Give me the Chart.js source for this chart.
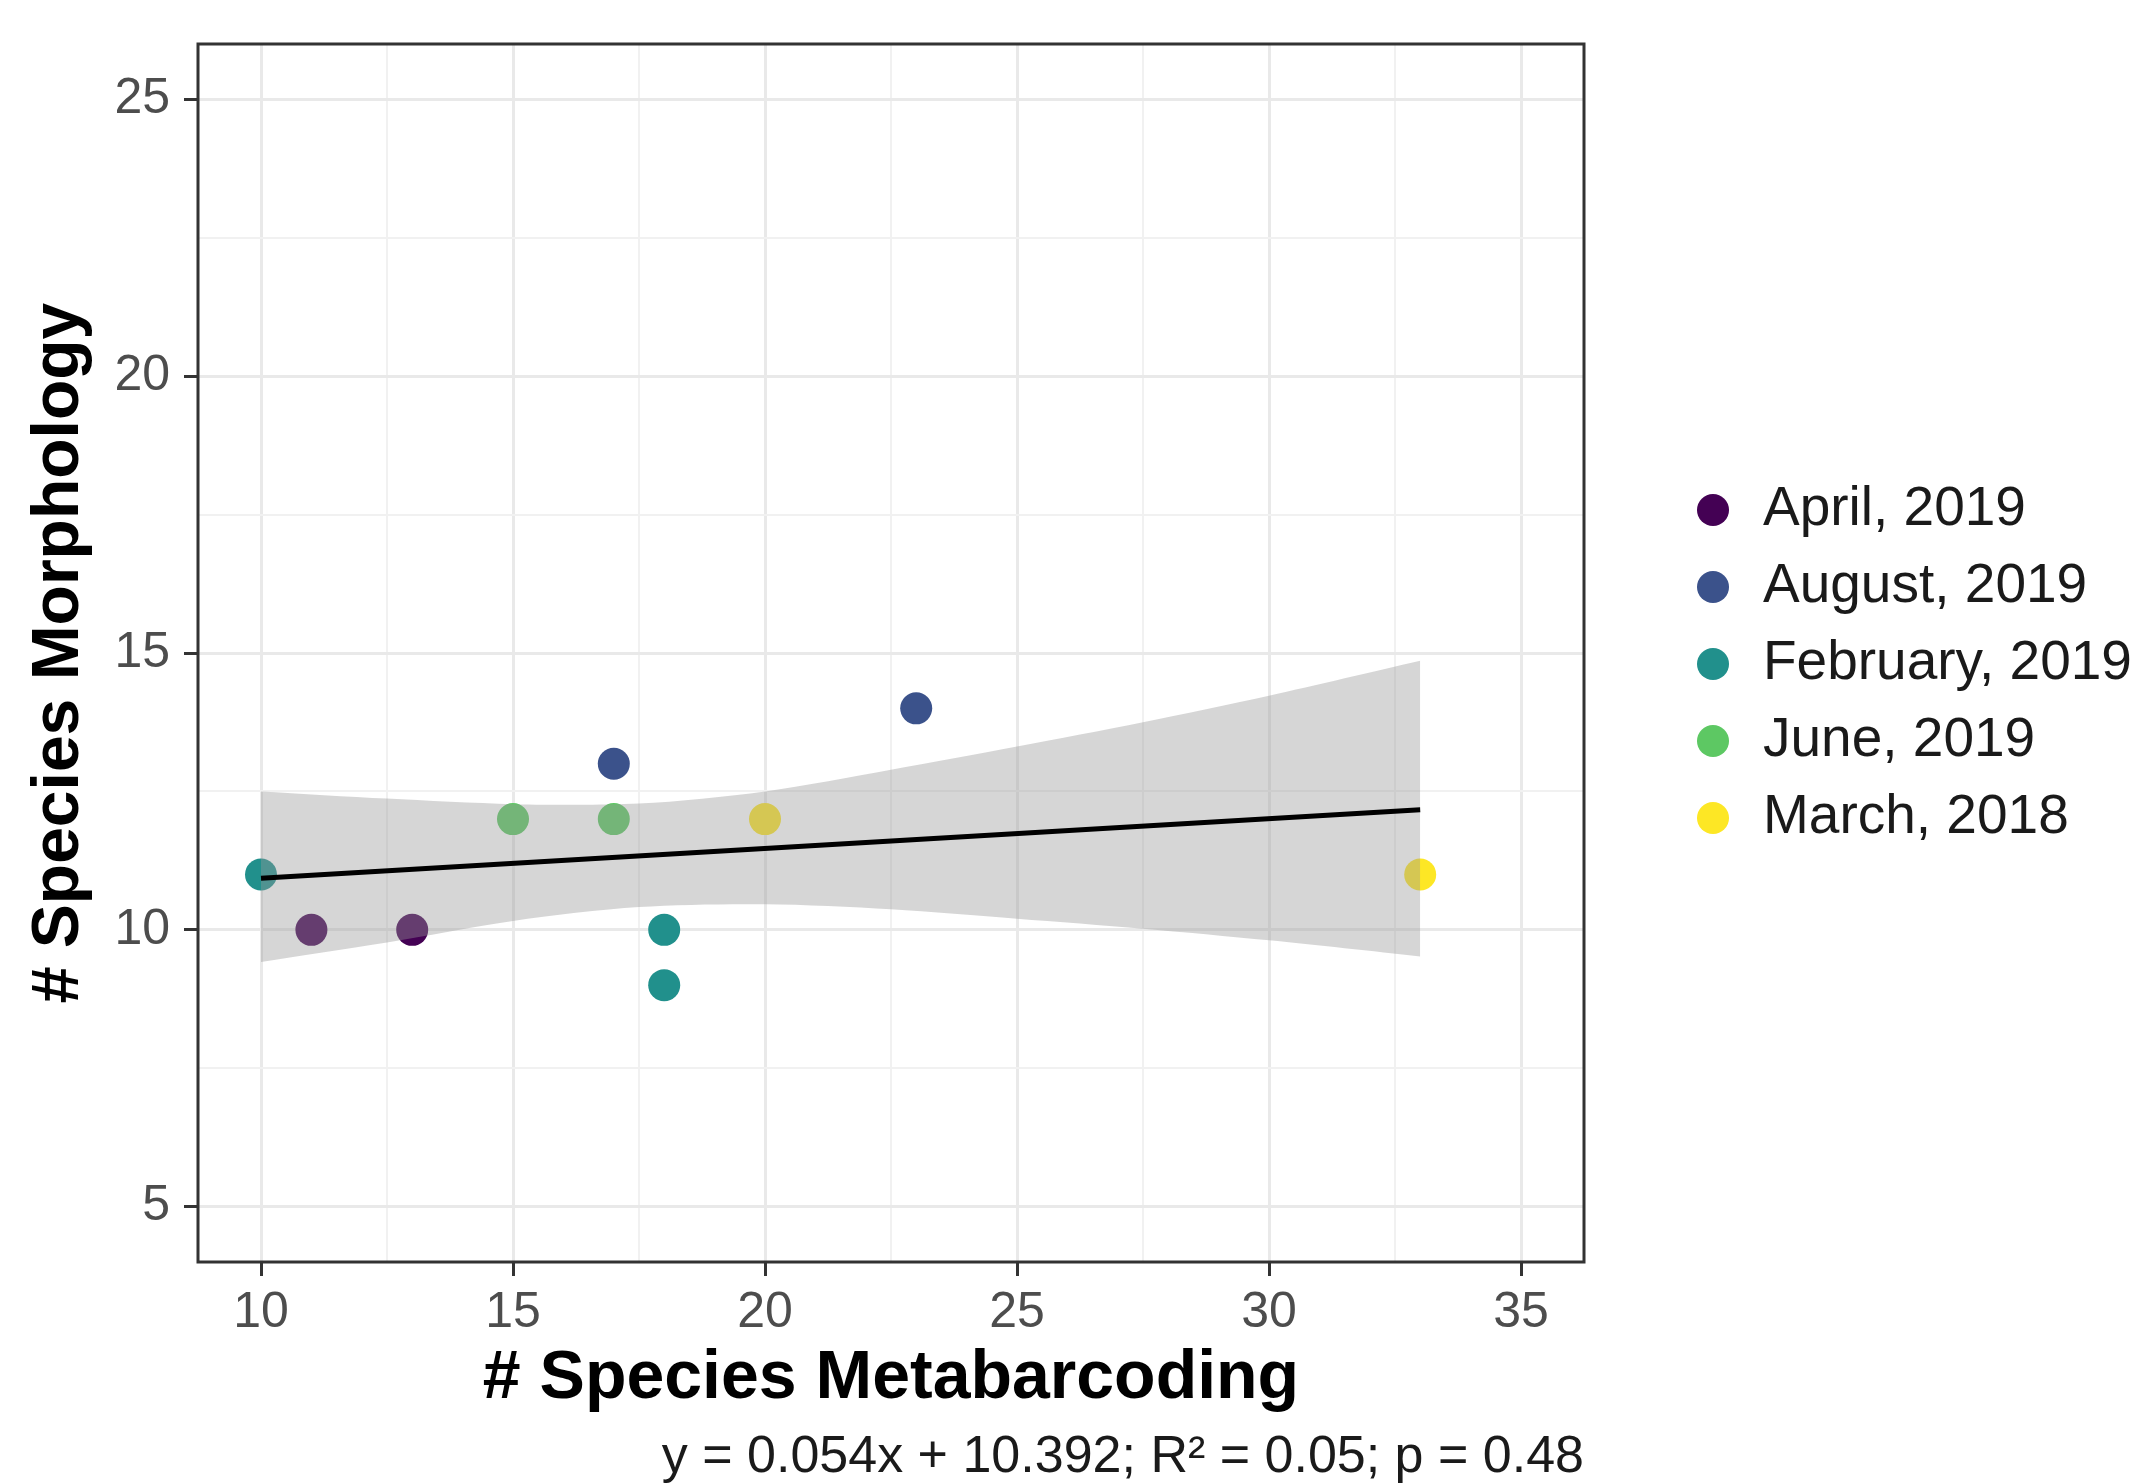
<!DOCTYPE html>
<html>
<head>
<meta charset="utf-8">
<script src="https://cdn.jsdelivr.net/npm/chart.js@4.4.1/dist/chart.umd.min.js"></script>
<style>
  html, body { margin: 0; padding: 0; background: #fff; }
  #wrap { width: 2147px; height: 1484px; }
</style>
</head>
<body>
<div id="wrap"><canvas id="chart" width="2147" height="1484"></canvas></div>
<script>
// Categorias e cores (viridis)
const legendLabels = ['April, 2019', 'August, 2019', 'February, 2019', 'June, 2019', 'March, 2018'];
const seriesColors = ['#440154', '#3B528B', '#21908C', '#5DC863', '#FDE725'];

// Pontos por coleta
const aprilX = [11, 13],        aprilY = [10, 10];
const augustX = [17, 23],       augustY = [13, 14];
const februaryX = [10, 18, 18], februaryY = [11, 10, 9];
const juneX = [15, 17],         juneY = [12, 12];
const marchX = [20, 33],        marchY = [12, 11];

// Reta ajustada e faixa de confiança
const fitX = [10, 33];
const fitY = [10.93, 12.17];
const ribbonX = [10, 12.5, 15, 17.5, 20, 22.5, 25, 27.5, 30, 33];
const ribbonUpper = [12.50, 12.37, 12.27, 12.28, 12.50, 12.89, 13.31, 13.75, 14.23, 14.86];
const ribbonLower = [9.42, 9.77, 10.16, 10.41, 10.46, 10.37, 10.20, 10.02, 9.81, 9.52];

// Eixos
const xTicks = [10, 12.5, 15, 17.5, 20, 22.5, 25, 27.5, 30, 32.5, 35];
const yTicks = [5, 7.5, 10, 12.5, 15, 17.5, 20, 22.5, 25];
const equationText = 'y = 0.054x + 10.392; R\u00b2 = 0.05; p = 0.48';

const FONT = '"Liberation Sans", Arial, sans-serif';
const toPts = (xs, ys) => xs.map((x, i) => ({ x, y: ys[i] }));
const isMajor = c => c.tick && c.tick.value % 5 === 0;

const pointSeries = [
  [aprilX, aprilY], [augustX, augustY], [februaryX, februaryY], [juneX, juneY], [marchX, marchY]
].map(([xs, ys], i) => ({
  label: legendLabels[i],
  data: toPts(xs, ys),
  backgroundColor: seriesColors[i],
  borderWidth: 0,
  pointRadius: 16,
  pointHoverRadius: 16,
  order: 3
}));

// moldura do painel + legenda
const panelAndLegend = {
  id: 'panelAndLegend',
  afterDraw(chart) {
    const { ctx, chartArea: a } = chart;
    ctx.save();
    ctx.strokeStyle = '#333333';
    ctx.lineWidth = 3;
    ctx.strokeRect(a.left, a.top, a.right - a.left, a.bottom - a.top);

    ctx.font = '55px ' + FONT;
    ctx.textBaseline = 'middle';
    ctx.textAlign = 'left';
    legendLabels.forEach((lab, i) => {
      const y = 510 + i * 77;
      ctx.fillStyle = seriesColors[i];
      ctx.beginPath();
      ctx.arc(1713, y, 16, 0, Math.PI * 2);
      ctx.fill();
      ctx.fillStyle = '#1a1a1a';
      ctx.fillText(lab, 1763, y);
    });
    ctx.restore();
  }
};

const gridOpts = {
  color: c => isMajor(c) ? '#e9e9e9' : '#f1f1f1',
  lineWidth: c => isMajor(c) ? 3 : 2,
  tickColor: c => isMajor(c) ? '#333333' : 'rgba(0,0,0,0)',
  tickWidth: 3,
  tickLength: 14,
  drawTicks: true
};

new Chart(document.getElementById('chart'), {
  type: 'scatter',
  data: {
    datasets: [
      ...pointSeries,
      {
        label: 'upper',
        data: toPts(ribbonX, ribbonUpper),
        showLine: true,
        borderWidth: 0,
        pointRadius: 0,
        tension: 0.3,
        fill: { target: '+1' },
        backgroundColor: 'rgba(153,153,153,0.4)',
        order: 2
      },
      {
        label: 'lower',
        data: toPts(ribbonX, ribbonLower),
        showLine: true,
        borderWidth: 0,
        pointRadius: 0,
        tension: 0.3,
        fill: false,
        order: 2
      },
      {
        label: 'fit',
        data: toPts(fitX, fitY),
        showLine: true,
        borderColor: '#000000',
        borderWidth: 5,
        pointRadius: 0,
        fill: false,
        order: 1
      }
    ]
  },
  options: {
    responsive: false,
    animation: false,
    devicePixelRatio: 1,
    layout: { padding: { top: 42, right: 563, bottom: 0, left: 0 } },
    plugins: {
      legend: { display: false },
      tooltip: { enabled: false },
      subtitle: {
        display: true,
        text: equationText,
        position: 'bottom',
        align: 'end',
        color: '#1a1a1a',
        font: { family: FONT, size: 52, lineHeight: 1 },
        padding: { top: 0, bottom: 0 }
      }
    },
    scales: {
      x: {
        type: 'linear',
        min: 8.75,
        max: 36.25,
        afterBuildTicks: s => { s.ticks = xTicks.map(v => ({ value: v })); },
        afterFit: s => { s.height = 170; },
        grid: gridOpts,
        border: { display: false },
        ticks: {
          autoSkip: false,
          maxRotation: 0,
          padding: 7,
          color: '#4d4d4d',
          font: { family: FONT, size: 50 },
          callback: v => v % 5 === 0 ? v : ''
        },
        title: {
          display: true,
          text: '# Species Metabarcoding',
          color: '#000000',
          font: { family: FONT, size: 68, weight: 'bold' },
          padding: { top: 0, bottom: 12 }
        }
      },
      y: {
        type: 'linear',
        min: 4,
        max: 26,
        afterBuildTicks: s => { s.ticks = yTicks.map(v => ({ value: v })); },
        afterFit: s => { s.width = 198; },
        grid: gridOpts,
        border: { display: false },
        ticks: {
          autoSkip: false,
          padding: 14,
          color: '#4d4d4d',
          font: { family: FONT, size: 50 },
          callback: v => v % 5 === 0 ? v : ''
        },
        title: {
          display: true,
          text: '# Species Morphology',
          color: '#000000',
          font: { family: FONT, size: 66, weight: 'bold' },
          padding: { top: 20, bottom: 0 }
        }
      }
    }
  },
  plugins: [panelAndLegend]
});
</script>
</body>
</html>
